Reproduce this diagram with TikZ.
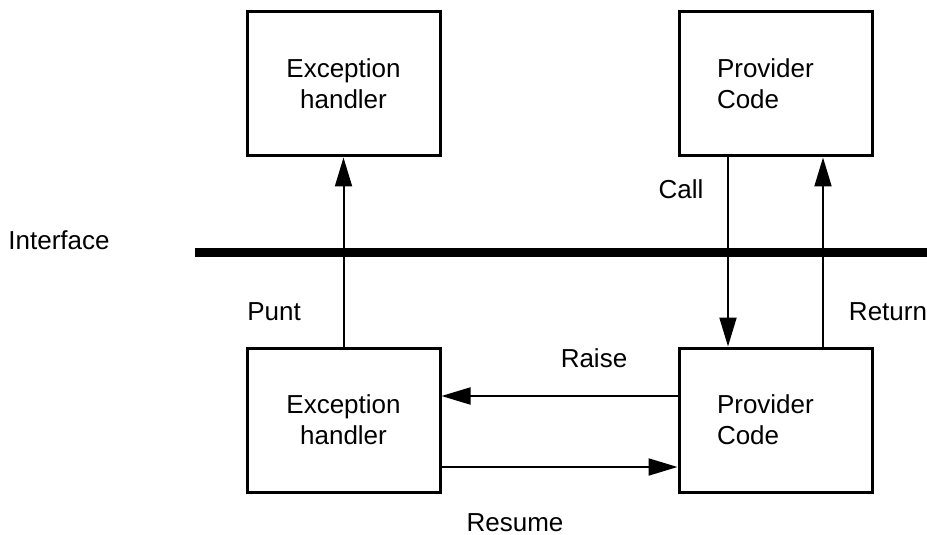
\documentclass[tikz,border=0pt]{standalone}
\usepackage{fontspec}
\setmainfont{Liberation Sans}
\usetikzlibrary{arrows.meta}
\begin{document}
\begin{tikzpicture}[x=0.5pt, y=-0.5pt, font=\fontsize{13}{15.5}\selectfont,
    >={Triangle[length=14.5pt,width=8.5pt]},
    box node/.style={draw, line width=1.5pt, minimum width=96.5pt, minimum height=72pt, align=center},
    code node/.style={box node, align=left, text width=58.5pt, inner xsep=19pt},
    arrow/.style={->, line width=1pt}]
    \useasboundingbox (0,0) rectangle (927,535);

    \node[box node] at (343.5, 84) (ht) {Exception\\handler};
    \node[code node] at (775.5, 84) (pt) {Provider\\Code};
    \node[box node] at (343.5, 420) (hb) {Exception\\handler};
    \node[code node] at (775.5, 420) (pb) {Provider\\Code};

    \coordinate (il) at (195, 252);
    \coordinate (ir) at (927, 252);
    \draw[line width=4.5pt] (il) -- (ir);
    \node at (59, 240) (iface) {Interface};

    \path[arrow] (hb.north) edge (ht.south);
    \path[arrow] ([xshift=-23.75pt]pt.south) edge ([xshift=-23.75pt]pb.north);
    \path[arrow] ([xshift=23.75pt]pb.north) edge ([xshift=23.75pt]pt.south);
    \path[arrow] ([yshift=12pt]pb.west) edge ([yshift=12pt]hb.east);
    \path[arrow] ([yshift=-23.5pt]hb.east) edge ([yshift=-23.5pt]pb.west);

    \node at (681, 189) (call) {Call};
    \node at (274, 312) (punt) {Punt};
    \node at (888, 312) (ret) {Return};
    \node at (594, 358) (raise) {Raise};
    \node[inner sep=1pt] at (515, 523) (resume) {Resume};
\end{tikzpicture}
\end{document}
